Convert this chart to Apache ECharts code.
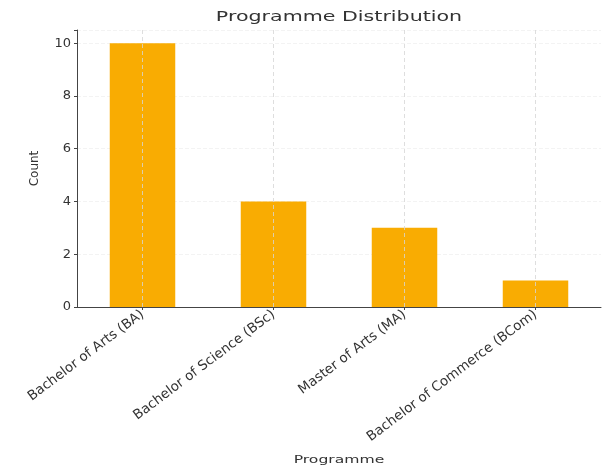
<!DOCTYPE html>
<html>
<head>
<meta charset="utf-8">
<script src="https://cdn.jsdelivr.net/npm/echarts@6/dist/echarts.min.js"></script>
<style>html,body{margin:0;padding:0;background:#fff;}#c{width:606px;height:471px;}</style>
</head>
<body>
<div id="c"></div>
<script>
const categories = ['Bachelor of Arts (BA)', 'Bachelor of Science (BSc)', 'Master of Arts (MA)', 'Bachelor of Commerce (BCom)'];
const counts = [10, 4, 3, 1];
const yTicks = [0, 2, 4, 6, 8, 10];
const titleText = 'Programme Distribution';
const xName = 'Programme';
const yName = 'Count';

const chart = echarts.init(document.getElementById('c'), null, {renderer: 'canvas'});
const font = 'DejaVu Sans';
chart.setOption({
  backgroundColor: '#fff',
  animation: false,
  graphic: [
    {type: 'text', x: 339, y: 17, scaleX: 1.42, silent: true,
     style: {text: titleText, fontFamily: font, fontSize: 14.5, fill: '#333', textAlign: 'center', textVerticalAlign: 'middle'}},
    {type: 'text', x: 339, y: 460, scaleX: 1.42, silent: true,
     style: {text: xName, fontFamily: font, fontSize: 11, fill: '#333', textAlign: 'center', textVerticalAlign: 'middle'}}
  ],
  grid: {left: 77, right: 5, top: 30, bottom: 164},
  xAxis: {
    type: 'category',
    data: categories,
    boundaryGap: true,
    axisLine: {lineStyle: {color: '#444', width: 1}},
    axisTick: {show: true, alignWithLabel: true, length: 3, lineStyle: {color: '#444'}},
    axisLabel: {rotate: 37, fontFamily: font, fontSize: 13.5, color: '#333', margin: 6, interval: 0},
    splitLine: {show: false}
  },
  yAxis: {
    type: 'value',
    min: 0, max: 10.5,
    interval: 2,
    name: yName,
    nameLocation: 'middle',
    nameGap: 36,
    nameTextStyle: {fontFamily: font, fontSize: 12, color: '#333'},
    axisLine: {show: true, lineStyle: {color: '#444', width: 1}},
    axisTick: {show: true, length: 3, lineStyle: {color: '#444'}},
    axisLabel: {
      fontFamily: font, fontSize: 13, color: '#333', margin: 6,
      formatter: v => yTicks.includes(v) ? String(v) : ''
    },
    splitLine: {show: true, lineStyle: {color: '#f3f3f3', type: 'dashed', width: 1}}
  },
  series: [{
    type: 'bar',
    data: counts,
    barWidth: '50%',
    itemStyle: {color: '#F9AC02'},
    markLine: {
      silent: true,
      symbol: 'none',
      label: {show: false},
      lineStyle: {color: '#d6d6d6', type: [4, 3], width: 1, opacity: 0.8},
      data: categories.map(c => [{xAxis: c, y: 30}, {xAxis: c, y: 307}])
    }
  }]
});
</script>
</body>
</html>
